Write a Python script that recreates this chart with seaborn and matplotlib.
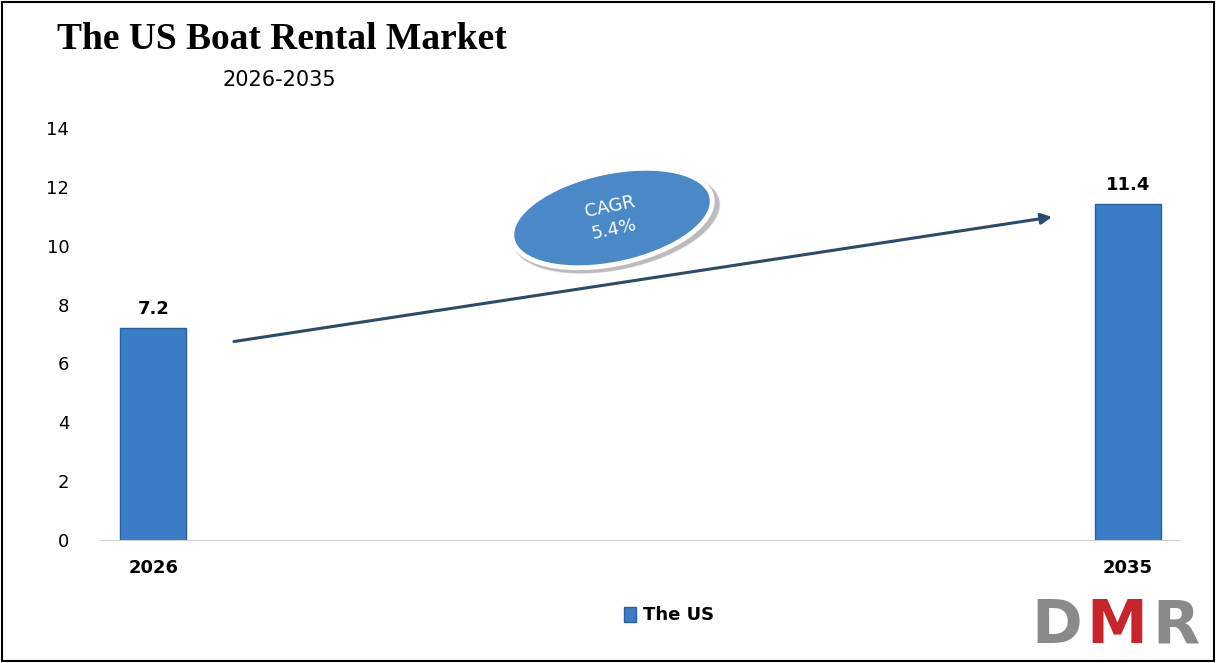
import matplotlib
matplotlib.use("Agg")
import matplotlib.pyplot as plt
import seaborn as sns
import pandas as pd
from matplotlib.patches import Ellipse, Rectangle

years = ["2026", "2035"]
values = [7.2, 11.4]
series_name = "The US"
cagr_text = "CAGR\n5.4%"

sns.set_style("white")
plt.rcParams['font.family'] = ['DejaVu Sans']
plt.rcParams['text.color'] = 'black'
plt.rcParams['xtick.color'] = 'black'
plt.rcParams['ytick.color'] = 'black'

fig = plt.figure(figsize=(12.16, 6.63), dpi=100)
ax = fig.add_axes([0.082, 0.1855, 0.888, 0.6215])

df = pd.DataFrame({"Year": years, "Value": values})
sns.barplot(data=df, x="Year", y="Value", color="#3a7cc6", width=0.068,
            edgecolor="#2a5f9e", linewidth=1, ax=ax, saturation=1)

ax.set_xlim(-0.055, 1.053)
ax.set_ylim(0, 14)
ax.set_yticks(range(0, 15, 2))
ax.tick_params(axis="y", labelsize=13, length=0, pad=22)
ax.tick_params(axis="x", length=0, pad=14)
ax.set_xticklabels(years, fontsize=13, fontweight="bold")
ax.set_xlabel("")
ax.set_ylabel("")
for s in ["top", "right", "left"]:
    ax.spines[s].set_visible(False)
ax.spines["bottom"].set_color("#d0d0d0")

for i, v in enumerate(values):
    ax.text(i, v + 0.35, f"{v}", ha="center", va="bottom", fontsize=13, fontweight="bold")

# CAGR arrow
ax.annotate("", xy=(0.925, 10.99), xytext=(0.08, 6.73),
            arrowprops=dict(arrowstyle="-|>", color="#2c4a6a", lw=2.2, mutation_scale=16))

# CAGR ellipse (in inches so the shape is not stretched by the axes)
tr = fig.dpi_scale_trans
fig.patches.append(Ellipse((6.16, 4.41), 2.12, 0.96, angle=12, facecolor="#8f8f8f",
                           alpha=0.6, transform=tr, zorder=4))
fig.patches.append(Ellipse((6.12, 4.45), 2.04, 0.92, angle=12, facecolor="#4a88c8",
                           edgecolor="white", linewidth=3.5, transform=tr, zorder=5))
fig.text(6.12 / 12.16, 4.45 / 6.63, cagr_text, ha="center", va="center", color="white",
         fontsize=13, rotation=12, zorder=6, linespacing=1.4)

# title
fig.text(0.047, 0.94, "The US Boat Rental Market", fontsize=27, fontweight="bold",
         family="Liberation Serif", va="center")
fig.text(0.23, 0.88, "2026-2035", fontsize=15, ha="center", va="center")

# legend
fig.patches.append(Rectangle((0.513, 0.062), 0.010, 0.022, transform=fig.transFigure,
                             facecolor="#3a7cc6", edgecolor="#2a5f9e"))
fig.text(0.529, 0.072, series_name, fontsize=13, fontweight="bold", va="center")

# logo
fig.text(0.848, 0.055, "D", fontsize=44, fontweight="bold", color="#8a8a8a", va="center")
fig.text(0.893, 0.055, "M", fontsize=44, fontweight="bold", color="#c8242b", va="center")
fig.text(0.948, 0.055, "R", fontsize=44, fontweight="bold", color="#8a8a8a", va="center")

# frame
fig.patches.append(Rectangle((0.002, 0.003), 0.996, 0.994, transform=fig.transFigure,
                             fill=False, edgecolor="black", linewidth=1.5))

fig.savefig("out.png", dpi=100)
